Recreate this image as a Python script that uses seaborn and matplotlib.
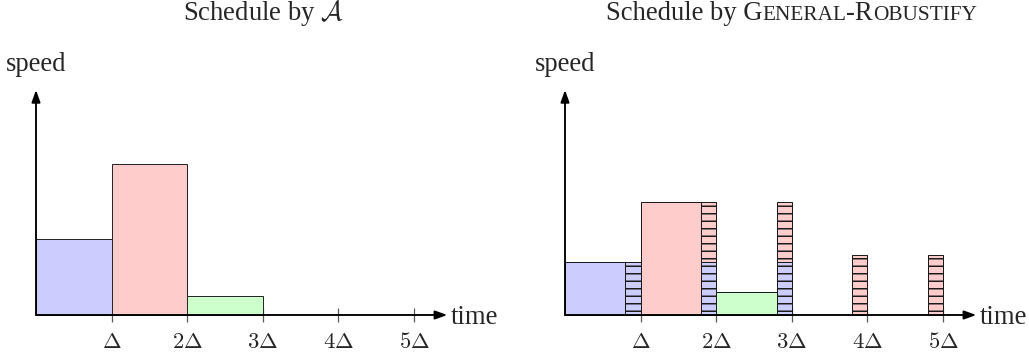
import matplotlib
matplotlib.use('Agg')
import matplotlib.pyplot as plt
import seaborn as sns

# time is measured in units of Delta, speed in the same units
TICKS = [1, 2, 3, 4, 5]
TICK_LABELS = [r'$\Delta$', r'$2\Delta$', r'$3\Delta$', r'$4\Delta$', r'$5\Delta$']
JOB_COLORS = {'blue': '#ccccff', 'red': '#ffcccc', 'green': '#ccffcc'}

# schedule produced by A
a_start = [0, 1, 2]
a_width = [1, 1, 1]
a_speed = [1.0, 2.0, 0.25]
a_job = ['blue', 'red', 'green']

# schedule produced by General-Robustify (hatched = robustified copies)
r_start = [0, 0.8, 1.0, 1.8, 1.8, 2.0, 2.8, 2.8, 3.8, 4.8]
r_width = [0.8, 0.2, 0.8, 0.2, 0.2, 0.8, 0.2, 0.2, 0.2, 0.2]
r_bottom = [0, 0, 0, 0, 0.7, 0, 0, 0.7, 0, 0]
r_speed = [0.7, 0.7, 1.5, 0.7, 0.8, 0.3, 0.7, 0.8, 0.8, 0.8]
r_job = ['blue', 'blue', 'red', 'blue', 'red', 'green', 'blue', 'red', 'red', 'red']
r_hatched = [False, True, False, True, True, False, True, True, True, True]

sns.set_theme(style='white')
plt.rcParams['font.family'] = ['Liberation Serif', 'DejaVu Serif']
plt.rcParams['mathtext.fontset'] = 'cm'
plt.rcParams['hatch.linewidth'] = 1.2

W, H, DPI = 1029, 360, 90
fig = plt.figure(figsize=(W / DPI, H / DPI), dpi=DPI)

# pixel layout of one panel (origin and size of one Delta)
OX, OY, UNIT, PANEL_W = 36, 315, 75.6, 500
Y_TOP, X_END = 2.976, 5.44
FS = 21.3


def make_panel(px0):
    ax = fig.add_axes([px0 / W, 0, PANEL_W / W, 1])
    ax.set_xlim(-OX / UNIT, (PANEL_W - OX) / UNIT)
    ax.set_ylim(-(H - OY) / UNIT, OY / UNIT)
    for s in ax.spines.values():
        s.set_visible(False)
    ax.spines['bottom'].set_position(('data', 0))
    ax.set_axisbelow(True)
    ax.set_yticks([])
    ax.set_xticks(TICKS)
    ax.set_xticklabels(TICK_LABELS, fontsize=18)
    ax.tick_params(axis='x', direction='inout', length=11, width=1,
                   color='0.35', pad=8.5, bottom=True)
    arrow = dict(arrowstyle='-|>,head_length=0.5,head_width=0.18',
                 mutation_scale=16, lw=1.5, color='black', shrinkA=0, shrinkB=0)
    ax.annotate('', xy=(0, Y_TOP), xytext=(0, 0), arrowprops=arrow, zorder=5)
    ax.annotate('', xy=(X_END, 0), xytext=(0, 0), arrowprops=arrow, zorder=5)
    ax.text(0, (OY - 71) / UNIT, 'speed', ha='center', va='baseline', fontsize=FS)
    ax.text(5.49, -0.12, 'time', ha='left', va='baseline', fontsize=FS)
    return ax


ax1 = make_panel(0)
for x, w, h, j in zip(a_start, a_width, a_speed, a_job):
    ax1.bar(x, h, w, align='edge', color=JOB_COLORS[j], edgecolor='0.15', lw=0.8)

ax2 = make_panel(529)
for x, w, b, h, j, hat in zip(r_start, r_width, r_bottom, r_speed, r_job, r_hatched):
    ax2.bar(x, h, w, bottom=b, align='edge', color=JOB_COLORS[j], edgecolor='0.1',
            lw=0.8, hatch='--' if hat else None)

# titles
title_y = 1 - 20.5 / H
fig.text(263 / W, title_y, r'Schedule by $\mathcal{A}$', ha='center', va='baseline', fontsize=FS)

# small-caps title built from pieces placed side by side
parts = ['Schedule by G', 'ENERAL', '-R', 'OBUSTIFY']
sizes = [FS, FS * 0.8, FS, FS * 0.8]
texts = [fig.text(0, title_y, p, fontsize=s, ha='left', va='baseline') for p, s in zip(parts, sizes)]
fig.canvas.draw()
renderer = fig.canvas.get_renderer()
widths = [t.get_window_extent(renderer).width for t in texts]
x = 791 - sum(widths) / 2
for t, w in zip(texts, widths):
    t.set_x(x / W)
    x += w

fig.savefig('out.png', dpi=DPI)
